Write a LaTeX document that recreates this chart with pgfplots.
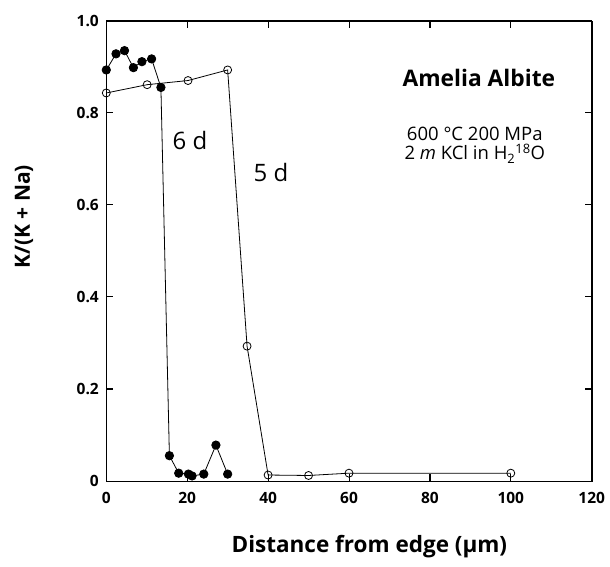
\documentclass[border=0pt]{standalone}
\usepackage{fontspec}
\setmainfont{Open Sans}
\usepackage{pgfplots}
\pgfplotsset{compat=1.18}
\begin{document}
\begin{tikzpicture}
\useasboundingbox (-106.3pt,-85pt) rectangle (503.7pt,481pt);
\begin{axis}[
  scale only axis,
  width=485.4pt, height=460.3pt,
  xmin=0, xmax=120, ymin=0, ymax=1,
  axis lines=box,
  xtick={0,20,...,120},
  ytick={0,0.2,0.4,0.6,0.8,1.0},
  yticklabels={0,0.2,0.4,0.6,0.8,1.0},
  xticklabels={0,20,40,60,80,100,120},
  tick align=inside,
  xtick pos=both, ytick pos=both,
  major tick length=7pt,
  tick style={black, line width=0.8pt},
  /pgf/number format/assume math mode=true,
  ticklabel style={font=\bfseries\fontsize{15.5}{15.5}\selectfont},
  xticklabel style={yshift=-8pt},
  yticklabel style={xshift=-4pt},
  xlabel={Distance from edge (µm)},
  ylabel={K/(K + Na)},
  label style={font=\bfseries\fontsize{21}{21}\selectfont},
  xlabel style={at={(axis description cs:0.542,-0.1564)}, anchor=base, font=\bfseries\fontsize{22.5}{22.5}\selectfont},
  ylabel style={at={(axis description cs:-0.1696,0.574)}, anchor=center},
  clip=false,
]
% frame
\addplot[black, line width=0.9pt, mark=none, forget plot]
coordinates {(0,0) (120,0) (120,1) (0,1) (0,0)};
% tick marks
\addplot[black, line width=0.9pt, mark=none, forget plot, unbounded coords=jump]
coordinates {
 (20,0) (20,0.0152) (20,nan)
 (40,0) (40,0.0152) (40,nan)
 (60,0) (60,0.0152) (60,nan)
 (80,0) (80,0.0152) (80,nan)
 (100,0) (100,0.0152) (100,nan)
 (20,1) (20,0.9848) (20,nan)
 (40,1) (40,0.9848) (40,nan)
 (60,1) (60,0.9848) (60,nan)
 (80,1) (80,0.9848) (80,nan)
 (100,1) (100,0.9848) (100,nan)
 (0,0.2) (1.73,0.2) (0,nan)
 (0,0.4) (1.73,0.4) (0,nan)
 (0,0.6) (1.73,0.6) (0,nan)
 (0,0.8) (1.73,0.8) (0,nan)
 (120,0.2) (118.27,0.2) (120,nan)
 (120,0.4) (118.27,0.4) (120,nan)
 (120,0.6) (118.27,0.6) (120,nan)
 (120,0.8) (118.27,0.8)
};
\addplot[black, line width=0.8pt, mark=*, mark size=4.2pt, mark options={fill=black}]
coordinates {
 (0,0.893) (2.4,0.928) (4.5,0.935) (6.7,0.898) (8.8,0.911) (11.2,0.917) (13.5,0.855)
 (15.6,0.055) (17.9,0.017) (20.3,0.015) (21.2,0.011) (24.1,0.015) (27.1,0.078) (30,0.015)
};
\addplot[black, line width=0.8pt, mark=o, mark size=4pt, mark options={fill=white}]
coordinates {
 (0,0.843) (10.1,0.861) (20.2,0.870) (30,0.893) (34.8,0.293) (40,0.013) (50,0.012) (60,0.017) (100,0.017)
};
\node[font=\fontsize{24}{24}\selectfont] at (axis cs:20.7,0.739) {6 d};
\node[font=\fontsize{24}{24}\selectfont] at (axis cs:40.7,0.670) {5 d};
\node[font=\bfseries\fontsize{22.8}{22.8}\selectfont] at (axis cs:92.1,0.876) {Amelia Albite};
\node[font=\fontsize{18.5}{19}\selectfont, align=center, inner sep=0pt] at (axis cs:91.1,0.729) {600 °C 200 MPa\\2 \textit{m} KCl in H\textsubscript{2}\textsuperscript{18}O};
\end{axis}
\end{tikzpicture}
\end{document}
